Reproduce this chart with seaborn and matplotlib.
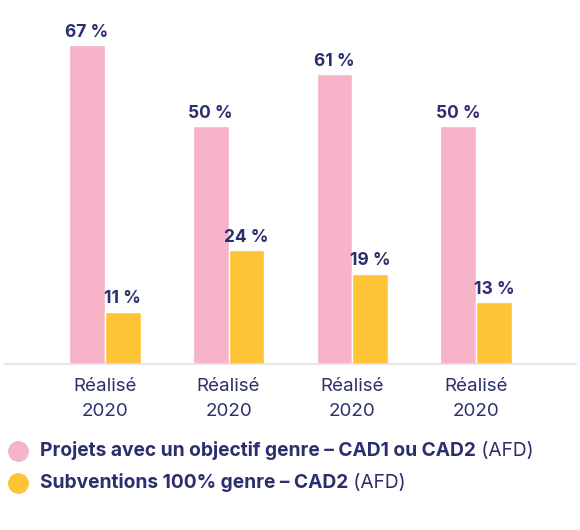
import matplotlib
matplotlib.use("Agg")
import matplotlib.pyplot as plt
import seaborn as sns
import pandas as pd
from matplotlib.lines import Line2D

categories = ["Réalisé\n2020 ", "Réalisé\n2020  ", "Réalisé\n2020   ", "Réalisé\n2020    "]
series_names = ["Projets avec un objectif genre – CAD1 ou CAD2", "Subventions 100% genre – CAD2"]
pink_values = [67, 50, 61, 50]
yellow_values = [11, 24, 19, 13]
legend_suffix = " (AFD)"

PINK = "#F7B3C8"
YELLOW = "#FFC436"
NAVY = "#2C2F6E"
FONT = "Inter"

df = pd.DataFrame({
    "cat": categories * 2,
    "serie": [series_names[0]] * 4 + [series_names[1]] * 4,
    "val": pink_values + yellow_values,
})

sns.set_theme(style="white")
plt.rcParams["font.family"] = [FONT, "DejaVu Sans"]

fig = plt.figure(figsize=(5.8, 5.3), dpi=100)
ax = fig.add_axes([5 / 580, 166 / 530, 571 / 580, 345 / 530])
sns.barplot(data=df, x="cat", y="val", hue="serie", order=categories,
            hue_order=series_names, palette=[PINK, YELLOW], width=0.58,
            saturation=1, ax=ax, legend=False)
ax.set_xlim(-0.804, 3.804)
ax.set_ylim(0, 72.5)
for s in ["top", "right", "left"]:
    ax.spines[s].set_visible(False)
ax.spines["bottom"].set_color("#E2E0EC")
ax.spines["bottom"].set_linewidth(1.2)
ax.set_yticks([])
ax.set_xlabel("")
ax.set_ylabel("")
ax.tick_params(axis="x", length=0, pad=10)
ax.set_xticks(range(4))
ax.set_xticklabels([c.strip() for c in categories], fontsize=13.5, color=NAVY,
                   linespacing=1.65, fontfamily=FONT)

for cont in ax.containers:
    ax.bar_label(cont, labels=[f"{int(v)} %" for v in cont.datavalues],
                 padding=3, fontsize=12.5, fontweight="bold", color=NAVY,
                 fontfamily=FONT)

# legend
colors = [PINK, YELLOW]
ys = [1 - 451 / 530, 1 - 483 / 530]
fig.canvas.draw()
renderer = fig.canvas.get_renderer()
for name, col, y in zip(series_names, colors, ys):
    fig.add_artist(Line2D([17.5 / 580], [y], marker="o", markersize=14,
                          color=col, linestyle="none", transform=fig.transFigure))
    t = fig.text(40 / 580, y, name, fontsize=13.8, fontweight="bold", color=NAVY,
                 va="center", ha="left", fontfamily=FONT)
    bb = t.get_window_extent(renderer=renderer)
    fig.text(bb.x1 / fig.bbox.width, y, legend_suffix, fontsize=13.8, color=NAVY,
             va="center", ha="left", fontfamily=FONT)

fig.savefig("out.png", dpi=100)
